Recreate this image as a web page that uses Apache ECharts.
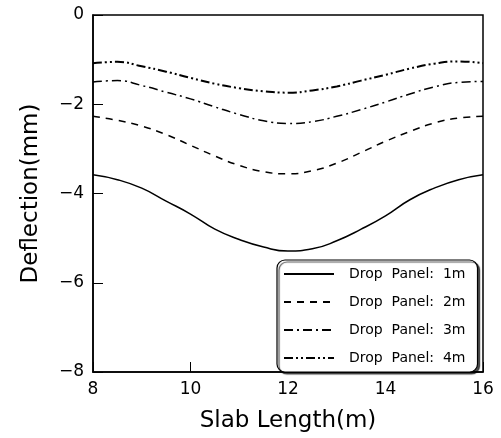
<!DOCTYPE html>
<html>
<head>
<meta charset="utf-8">
<script src="https://cdn.jsdelivr.net/npm/echarts@6/dist/echarts.min.js"></script>
<style>
  html, body { margin: 0; padding: 0; background: #fff; }
  #main { width: 501px; height: 438px; }
</style>
</head>
<body>
<div id="main"></div>
<script>
// slab length (m)
var xs = [8, 8.5, 9, 9.5, 10, 10.5, 11, 11.5, 12, 12.5, 13, 13.5, 14, 14.5, 15, 15.5, 16];
// deflection (mm) for each drop panel size
var panel1 = [-3.58, -3.69, -3.88, -4.17, -4.46, -4.80, -5.03, -5.20, -5.29, -5.24, -5.06, -4.80, -4.50, -4.14, -3.88, -3.69, -3.58];
var panel2 = [-2.27, -2.36, -2.49, -2.68, -2.92, -3.16, -3.37, -3.51, -3.56, -3.49, -3.32, -3.08, -2.83, -2.61, -2.42, -2.31, -2.27];
var panel3 = [-1.50, -1.47, -1.58, -1.73, -1.88, -2.06, -2.23, -2.37, -2.43, -2.39, -2.27, -2.12, -1.95, -1.77, -1.61, -1.51, -1.49];
var panel4 = [-1.08, -1.05, -1.15, -1.27, -1.41, -1.54, -1.64, -1.71, -1.74, -1.69, -1.60, -1.47, -1.34, -1.20, -1.09, -1.04, -1.08];
var names = ['Drop Panel: 1m', 'Drop Panel: 2m', 'Drop Panel: 3m', 'Drop Panel: 4m'];

function pairs(ys) {
  return xs.map(function (x, i) { return [x, ys[i]]; });
}

var font = 'DejaVu Sans';
var chart = echarts.init(document.getElementById('main'));

var dashes = ['solid', [7, 6], [9, 4, 2, 4], [9, 3, 2, 3, 2, 3]];
var widths = [1.5, 1.5, 1.5, 2];
var datas = [panel1, panel2, panel3, panel4];

var series = names.map(function (n, i) {
  return {
    name: n,
    type: 'line',
    smooth: true,
    showSymbol: false,
    symbol: 'none',
    data: pairs(datas[i]),
    itemStyle: { color: '#000' },
    lineStyle: { color: '#000', width: widths[i], type: dashes[i] }
  };
});

chart.setOption({
  animation: false,
  backgroundColor: '#fff',
  grid: {
    left: 93, right: 18, top: 15, bottom: 57,
    show: true, borderColor: '#000', borderWidth: 1.5
  },
  legend: {
    orient: 'vertical',
    left: 277,
    top: 260,
    padding: [7, 12, 7, 6],
    itemWidth: 50,
    itemHeight: 14,
    itemGap: 14,
    backgroundColor: '#fff',
    borderColor: '#000',
    borderWidth: 1.2,
    borderRadius: 8,
    shadowColor: 'rgba(0,0,0,0.7)',
    shadowOffsetX: 2,
    shadowOffsetY: 2,
    shadowBlur: 1,
    itemStyle: { color: 'transparent', borderWidth: 0, opacity: 0 },
    textStyle: { fontFamily: font, fontSize: 14, color: '#000', padding: [0, 0, 0, 10] },
    formatter: function (n) { return n.replace(/ /g, '  '); },
    data: names
  },
  xAxis: {
    type: 'value',
    min: 8, max: 16, interval: 2,
    name: 'Slab Length(m)',
    nameLocation: 'middle',
    nameGap: 38,
    nameTextStyle: { fontFamily: font, fontSize: 23, color: '#000' },
    axisLine: { show: true, onZero: false, lineStyle: { color: '#000', width: 1.5 } },
    axisTick: { show: true, inside: true, length: 10, lineStyle: { color: '#000' } },
    axisLabel: { fontFamily: font, fontSize: 17, color: '#000', margin: 9 },
    splitLine: { show: false }
  },
  yAxis: {
    type: 'value',
    min: -8, max: 0, interval: 2,
    name: 'Deflection(mm)',
    nameLocation: 'middle',
    nameGap: 50,
    nameTextStyle: { fontFamily: font, fontSize: 23, color: '#000' },
    axisLine: { show: true, onZero: false, lineStyle: { color: '#000', width: 1.5 } },
    axisTick: { show: true, inside: true, length: 10, lineStyle: { color: '#000' } },
    axisLabel: {
      fontFamily: font, fontSize: 17, color: '#000', margin: 9,
      formatter: function (v) { return String(v).replace('-', '\u2212'); }
    },
    splitLine: { show: false }
  },
  series: series
});
</script>
</body>
</html>
